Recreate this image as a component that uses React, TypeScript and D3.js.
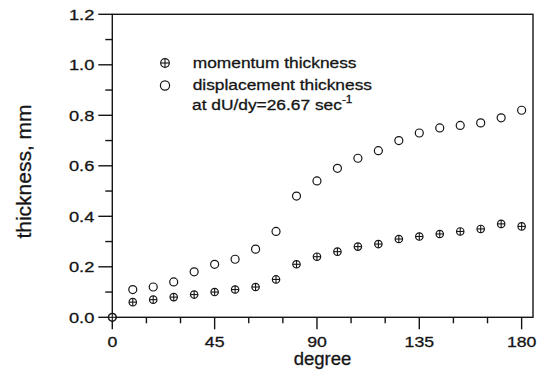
import React, { useEffect, useRef } from 'react';
import * as d3 from 'd3';

// values
const degrees = [0, 9, 18, 27, 36, 45, 54, 63, 72, 81, 90, 99, 108, 117, 126, 135, 144, 153, 162, 171, 180];
const momentum = [0.0, 0.06, 0.07, 0.08, 0.09, 0.10, 0.11, 0.12, 0.15, 0.21, 0.24, 0.26, 0.28, 0.29, 0.31, 0.32, 0.33, 0.34, 0.35, 0.37, 0.36];
const displacement = [0.0, 0.11, 0.12, 0.14, 0.18, 0.21, 0.23, 0.27, 0.34, 0.48, 0.54, 0.59, 0.63, 0.66, 0.70, 0.73, 0.75, 0.76, 0.77, 0.79, 0.82];
const xTicks = [0, 45, 90, 135, 180];
const xMinor = [15, 30, 60, 75, 105, 120, 150, 165];
const yTicks = [0, 0.2, 0.4, 0.6, 0.8, 1.0, 1.2];
const yMinor = [0.1, 0.3, 0.5, 0.7, 0.9, 1.1];
const legendLabels = ['momentum thickness', 'displacement thickness'];

const FONT = 'Liberation Sans, Arial, Helvetica, sans-serif';
const INK = '#151515';

const ThicknessChart = () => {
  const svgRef = useRef<SVGSVGElement>(null);

  useEffect(() => {
    const svg = d3.select(svgRef.current);
    svg.selectAll('*').remove();

    const x = d3.scaleLinear().domain([0, 185]).range([112.3, 533]);
    const y = d3.scaleLinear().domain([0, 1.2]).range([317.3, 14.3]);
    const [x0, x1] = x.range();
    const [y0, y1] = y.range();

    const g = svg.append('g');

    // scanned look: text slightly heavier
    const ink = (sel) => sel
      .style('font-family', FONT)
      .attr('fill', INK)
      .attr('stroke', INK)
      .attr('stroke-width', 0.3);

    // frame
    g.append('rect')
      .attr('x', x0).attr('y', y1)
      .attr('width', x1 - x0).attr('height', y0 - y1)
      .attr('fill', 'none').attr('stroke', INK).attr('stroke-width', 1.4);

    // y ticks (outside)
    g.selectAll('.ymaj').data(yTicks).enter().append('line')
      .attr('x1', x0 - 14).attr('x2', x0)
      .attr('y1', d => y(d)).attr('y2', d => y(d))
      .attr('stroke', INK).attr('stroke-width', 1.4);
    g.selectAll('.ymin').data(yMinor).enter().append('line')
      .attr('x1', x0 - 7).attr('x2', x0)
      .attr('y1', d => y(d)).attr('y2', d => y(d))
      .attr('stroke', INK).attr('stroke-width', 1.4);
    g.selectAll('.ylab').data(yTicks).enter().append('text')
      .attr('transform', d => `translate(${x0 - 18},${y(d) + 5.5}) scale(1.18,1)`)
      .attr('text-anchor', 'end')
      .style('font-size', '15.5px')
      .call(ink)
      .text(d => d3.format('.1f')(d));

    // x ticks (outside)
    g.selectAll('.xmaj').data(xTicks).enter().append('line')
      .attr('x1', d => x(d)).attr('x2', d => x(d))
      .attr('y1', y0).attr('y2', y0 + 12)
      .attr('stroke', INK).attr('stroke-width', 1.4);
    g.selectAll('.xmin').data(xMinor).enter().append('line')
      .attr('x1', d => x(d)).attr('x2', d => x(d))
      .attr('y1', y0).attr('y2', y0 + 6)
      .attr('stroke', INK).attr('stroke-width', 1.4);
    g.selectAll('.xlab').data(xTicks).enter().append('text')
      .attr('transform', d => `translate(${x(d)},${y0 + 29.5}) scale(1.18,1)`)
      .attr('text-anchor', 'middle')
      .style('font-size', '15px')
      .call(ink)
      .text(d => d);

    // axis titles
    g.append('text')
      .attr('transform', 'translate(322.5,365) scale(1.06,1)')
      .attr('text-anchor', 'middle')
      .style('font-size', '17.5px')
      .call(ink)
      .text('degree');
    g.append('text')
      .attr('transform', 'translate(31,171.5) rotate(-90)')
      .attr('text-anchor', 'middle')
      .style('font-size', '21px')
      .call(ink)
      .text('thickness, mm');

    const crossed = (sel, cx, cy, r) => {
      sel.append('circle').attr('cx', cx).attr('cy', cy).attr('r', r)
        .attr('fill', 'white').attr('stroke', INK).attr('stroke-width', 1.2);
      sel.append('line').attr('x1', cx - r).attr('x2', cx + r).attr('y1', cy).attr('y2', cy)
        .attr('stroke', INK).attr('stroke-width', 1.1);
      sel.append('line').attr('x1', cx).attr('x2', cx).attr('y1', cy - r).attr('y2', cy + r)
        .attr('stroke', INK).attr('stroke-width', 1.1);
    };
    const open = (sel, cx, cy, r) => {
      sel.append('circle').attr('cx', cx).attr('cy', cy).attr('r', r)
        .attr('fill', 'none').attr('stroke', INK).attr('stroke-width', 1.2);
    };

    // data
    const pts = g.append('g');
    degrees.forEach((d, i) => open(pts, x(d), y(displacement[i]), 4));
    degrees.forEach((d, i) => crossed(pts, x(d), y(momentum[i]), 3.7));

    // legend
    const leg = g.append('g');
    crossed(leg, 165, 63, 4.3);
    open(leg, 165, 85.5, 4.6);
    [68.3, 90].forEach((by, i) => {
      leg.append('text')
        .attr('transform', `translate(192.7,${by}) scale(1.12,1)`)
        .style('font-size', '15.5px')
        .call(ink)
        .text(legendLabels[i]);
    });
    const note = leg.append('text')
      .attr('transform', 'translate(192,110) scale(1.12,1)')
      .style('font-size', '15.5px')
      .call(ink);
    note.append('tspan').text('at dU/dy=26.67 sec');
    note.append('tspan').attr('dy', -7).style('font-size', '10.5px').text('-1');
  }, []);

  return (
    <svg
      ref={svgRef}
      width={545}
      height={370}
      style={{ position: 'absolute', left: 0, top: 0, background: 'white' }}
    />
  );
};

export default function App() {
  return <ThicknessChart />;
}
